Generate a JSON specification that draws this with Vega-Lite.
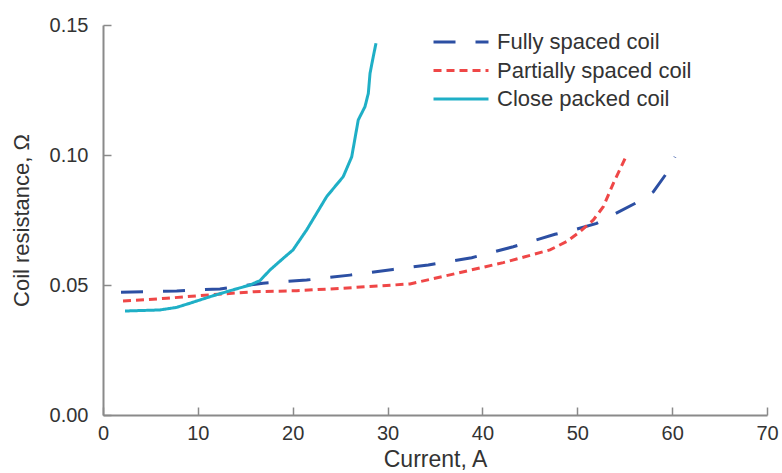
{
  "$schema": "https://vega.github.io/schema/vega-lite/v6.json",
  "width": 664,
  "height": 390,
  "autosize": {"type": "none"},
  "padding": {"left": 103, "top": 25, "right": 15, "bottom": 58},
  "background": "white",
  "config": {
    "view": {"stroke": null},
    "font": "Liberation Sans",
    "axis": {
      "grid": false,
      "domainColor": "#8a8a8a",
      "domainWidth": 2,
      "tickColor": "#8a8a8a",
      "tickWidth": 1.5,
      "tickSize": -8,
      "labelFlush": false,
      "labelFont": "Liberation Sans",
      "labelFontSize": 20,
      "labelColor": "#333333",
      "titleFont": "Liberation Sans",
      "titleFontSize": 21,
      "titleFontWeight": "normal",
      "titleColor": "#333333"
    }
  },
  "data": {
    "values": [
      {"series": "Fully spaced coil", "current": 1.9, "resistance": 0.0472},
      {"series": "Fully spaced coil", "current": 7.77, "resistance": 0.0477},
      {"series": "Fully spaced coil", "current": 12.33, "resistance": 0.0485},
      {"series": "Fully spaced coil", "current": 16.87, "resistance": 0.0507},
      {"series": "Fully spaced coil", "current": 21.47, "resistance": 0.0519},
      {"series": "Fully spaced coil", "current": 26.04, "resistance": 0.0538},
      {"series": "Fully spaced coil", "current": 30.57, "resistance": 0.056},
      {"series": "Fully spaced coil", "current": 34.29, "resistance": 0.0577},
      {"series": "Fully spaced coil", "current": 38.87, "resistance": 0.0605},
      {"series": "Fully spaced coil", "current": 43.25, "resistance": 0.0647},
      {"series": "Fully spaced coil", "current": 47.65, "resistance": 0.0695},
      {"series": "Fully spaced coil", "current": 49.94, "resistance": 0.0715},
      {"series": "Fully spaced coil", "current": 52.04, "resistance": 0.0737},
      {"series": "Fully spaced coil", "current": 56.26, "resistance": 0.0817},
      {"series": "Fully spaced coil", "current": 58.01, "resistance": 0.0858},
      {"series": "Fully spaced coil", "current": 59.42, "resistance": 0.093},
      {"series": "Fully spaced coil", "current": 60.3, "resistance": 0.0993},
      {"series": "Partially spaced coil", "current": 2.11, "resistance": 0.0438},
      {"series": "Partially spaced coil", "current": 6.72, "resistance": 0.0449},
      {"series": "Partially spaced coil", "current": 11.28, "resistance": 0.0462},
      {"series": "Partially spaced coil", "current": 15.84, "resistance": 0.0474},
      {"series": "Partially spaced coil", "current": 20.42, "resistance": 0.0478},
      {"series": "Partially spaced coil", "current": 24.98, "resistance": 0.0487},
      {"series": "Partially spaced coil", "current": 32.36, "resistance": 0.0504},
      {"series": "Partially spaced coil", "current": 37.29, "resistance": 0.0545},
      {"series": "Partially spaced coil", "current": 42.2, "resistance": 0.0586},
      {"series": "Partially spaced coil", "current": 47.12, "resistance": 0.0635},
      {"series": "Partially spaced coil", "current": 48.88, "resistance": 0.0667},
      {"series": "Partially spaced coil", "current": 50.29, "resistance": 0.0705},
      {"series": "Partially spaced coil", "current": 51.69, "resistance": 0.075},
      {"series": "Partially spaced coil", "current": 52.74, "resistance": 0.0801},
      {"series": "Partially spaced coil", "current": 53.8, "resistance": 0.0891},
      {"series": "Partially spaced coil", "current": 55.21, "resistance": 0.1},
      {"series": "Close packed coil", "current": 2.32, "resistance": 0.04},
      {"series": "Close packed coil", "current": 6.0, "resistance": 0.0404},
      {"series": "Close packed coil", "current": 7.77, "resistance": 0.0414},
      {"series": "Close packed coil", "current": 9.17, "resistance": 0.043},
      {"series": "Close packed coil", "current": 11.28, "resistance": 0.0455},
      {"series": "Close packed coil", "current": 13.39, "resistance": 0.0478},
      {"series": "Close packed coil", "current": 15.5, "resistance": 0.05},
      {"series": "Close packed coil", "current": 16.55, "resistance": 0.0517},
      {"series": "Close packed coil", "current": 17.61, "resistance": 0.0558},
      {"series": "Close packed coil", "current": 19.01, "resistance": 0.0603},
      {"series": "Close packed coil", "current": 20.03, "resistance": 0.0635},
      {"series": "Close packed coil", "current": 21.47, "resistance": 0.0712},
      {"series": "Close packed coil", "current": 23.58, "resistance": 0.084},
      {"series": "Close packed coil", "current": 25.33, "resistance": 0.0917},
      {"series": "Close packed coil", "current": 26.22, "resistance": 0.0993},
      {"series": "Close packed coil", "current": 26.91, "resistance": 0.1135},
      {"series": "Close packed coil", "current": 27.62, "resistance": 0.1186},
      {"series": "Close packed coil", "current": 27.97, "resistance": 0.1237},
      {"series": "Close packed coil", "current": 28.15, "resistance": 0.1314},
      {"series": "Close packed coil", "current": 28.49, "resistance": 0.1378},
      {"series": "Close packed coil", "current": 28.78, "resistance": 0.143}
    ]
  },
  "mark": {"type": "line", "strokeWidth": 3, "strokeCap": "butt"},
  "encoding": {
    "x": {
      "field": "current",
      "type": "quantitative",
      "scale": {"domain": [0, 70], "nice": false},
      "axis": {"title": "Current, A", "titleFontSize": 23, "values": [0, 10, 20, 30, 40, 50, 60, 70], "labelPadding": 16, "titlePadding": 5}
    },
    "y": {
      "field": "resistance",
      "type": "quantitative",
      "scale": {"domain": [0, 0.15], "nice": false},
      "axis": {"title": "Coil resistance, Ω", "titleFontSize": 22, "values": [0, 0.05, 0.1, 0.15], "format": ".2f", "labelPadding": 23, "titlePadding": 16}
    },
    "color": {
      "field": "series",
      "type": "nominal",
      "scale": {
        "domain": ["Fully spaced coil", "Partially spaced coil", "Close packed coil"],
        "range": ["#2c4fa3", "#ef4747", "#1fafc6"]
      },
      "legend": {
        "title": null,
        "orient": "none",
        "legendX": 347,
        "legendY": 6,
        "symbolType": "M-3,0H3",
        "symbolSize": 336,
        "symbolStrokeWidth": 3,
        "labelFont": "Liberation Sans",
        "labelFontSize": 22,
        "labelColor": "#333333",
        "labelOffset": 25,
        "labelLimit": 400,
        "rowPadding": 6.5
      }
    },
    "strokeDash": {
      "field": "series",
      "type": "nominal",
      "scale": {
        "domain": ["Fully spaced coil", "Partially spaced coil", "Close packed coil"],
        "range": [[22, 20], [8, 5], [1, 0]]
      },
      "legend": null
    }
  }
}
